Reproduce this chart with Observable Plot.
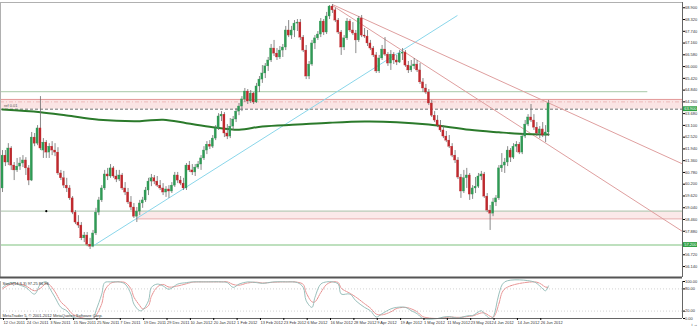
<!DOCTYPE html>
<html><head><meta charset="utf-8">
<script src="https://cdn.jsdelivr.net/npm/d3@7"></script>
<script src="https://cdn.jsdelivr.net/npm/@observablehq/plot@0.6"></script>
<style>
html,body{margin:0;padding:0;background:#fff;}
#chart{position:relative;width:700px;height:328px;overflow:hidden;background:#fff;}
#chart svg{position:absolute;left:0;display:block;}
</style></head><body><div id="chart"></div>
<script>
// ---- daily NZDJPY-like candles, one entry per bar (index 0 = 12 Oct 2011) ----
const open = [59.99,61.61,61.27,61.96,61.12,60.88,61.07,61.22,61.37,60.98,60.38,62.50,62.20,62.95,61.86,62.25,61.76,62.05,61.86,61.76,60.73,60.49,60.13,59.99,59.50,58.80,58.31,58.16,57.53,57.67,57.22,57.12,57.77,58.80,59.40,59.99,60.68,60.58,60.98,60.58,60.43,60.63,59.99,59.79,59.30,59.05,58.60,58.85,59.25,59.40,59.89,60.33,60.49,60.33,60.13,59.99,59.79,59.94,59.84,60.13,60.63,60.38,60.23,59.99,61.12,60.88,60.78,61.02,61.17,61.47,61.86,62.15,62.05,62.45,62.95,63.54,63.63,62.70,62.55,63.04,63.39,63.78,64.03,64.38,64.77,64.28,64.67,64.23,65.02,65.36,65.66,66.01,66.30,66.89,66.64,66.45,66.79,66.94,67.78,67.53,67.78,68.12,68.17,67.43,66.79,65.51,66.10,67.14,67.39,67.58,68.22,67.68,68.47,68.96,68.77,68.27,67.68,66.94,67.39,68.22,67.78,67.63,67.29,68.37,67.53,67.48,67.14,66.89,66.55,65.76,66.40,66.84,66.59,66.15,66.59,66.30,66.20,66.64,66.69,66.05,65.81,66.01,66.10,65.81,65.22,64.92,64.72,64.18,63.58,63.34,63.09,62.85,62.55,62.35,62.05,61.61,61.37,60.53,59.84,60.49,60.63,59.69,59.99,60.08,60.58,60.68,59.59,58.90,58.75,59.30,59.50,60.98,61.12,61.27,61.86,61.51,62.05,62.15,61.76,62.55,63.14,63.49,63.34,62.99,62.70,62.90,62.60,62.75];
const high = [61.86,61.86,62.20,62.05,61.27,61.47,61.51,61.61,61.51,61.12,62.75,62.70,63.09,64.52,62.45,62.35,62.20,62.30,62.20,62.00,60.88,60.83,60.49,60.13,59.59,58.90,58.65,58.31,57.82,57.82,57.53,57.92,59.01,59.55,60.13,60.88,60.98,61.17,61.07,60.88,60.88,60.73,60.28,59.99,59.59,59.25,59.05,59.40,59.55,60.04,60.49,60.68,60.63,60.58,60.38,60.23,60.08,60.13,60.28,60.78,60.78,60.58,60.49,61.22,61.32,61.17,61.17,61.32,61.61,62.05,62.30,62.35,62.60,63.09,63.68,63.78,63.73,63.14,63.44,63.54,63.93,64.18,64.52,64.92,64.87,64.82,64.72,65.17,65.51,66.05,66.15,66.45,67.09,67.29,66.89,66.99,67.09,67.98,68.27,67.98,68.27,68.32,68.32,67.53,67.04,66.25,67.29,67.53,67.73,68.37,68.32,68.67,69.01,69.06,68.87,68.37,67.78,67.53,68.37,68.32,68.17,67.78,68.47,68.52,67.88,67.78,67.29,66.99,66.69,66.55,67.04,67.43,66.69,66.79,66.69,66.55,66.79,66.89,66.79,66.25,66.30,66.40,66.30,66.15,65.41,65.12,64.87,64.33,63.78,63.58,63.34,63.09,62.80,62.60,62.20,61.86,61.51,60.68,60.88,60.98,60.73,60.13,60.53,60.73,60.83,60.78,59.74,59.15,59.50,59.64,61.12,61.71,61.47,62.05,61.96,62.20,62.30,62.25,62.70,63.34,63.63,64.13,63.63,63.24,63.04,63.24,63.09,64.33];
const low = [59.79,61.07,61.12,60.88,60.38,60.78,60.88,61.02,60.63,60.13,60.33,62.05,62.10,61.86,61.47,61.47,61.47,61.61,61.56,60.63,60.38,59.99,59.79,59.40,58.70,58.21,58.02,57.42,57.32,57.12,56.98,57.07,57.67,58.65,59.30,59.89,60.38,60.49,60.49,60.28,60.33,59.89,59.64,59.20,58.90,58.51,58.31,58.65,59.01,59.30,59.64,60.08,60.18,60.04,59.89,59.64,59.55,59.50,59.74,60.04,60.23,60.13,59.89,59.89,60.78,60.63,60.58,60.93,60.88,61.37,61.66,61.91,61.96,62.35,62.85,63.29,62.50,62.40,62.45,62.85,63.24,63.58,63.78,64.23,64.13,64.18,64.13,64.18,64.72,65.17,65.41,65.76,66.20,66.50,66.30,66.35,66.45,66.79,67.43,67.34,67.43,67.73,67.29,66.69,65.36,65.36,66.01,66.84,67.29,67.43,67.53,67.58,68.32,68.62,68.17,67.58,66.55,66.79,67.29,67.68,67.53,66.64,67.19,67.43,67.39,66.99,66.79,66.45,65.66,65.66,66.30,66.50,66.01,65.81,66.10,66.05,66.15,66.30,65.96,65.66,65.71,65.86,65.71,65.12,64.72,64.62,64.08,63.49,63.24,62.99,62.75,62.45,62.25,61.96,61.51,61.22,60.43,59.50,59.74,59.99,59.40,59.45,59.74,59.99,60.38,59.50,58.80,57.92,58.60,59.10,59.40,60.78,60.73,61.07,61.27,61.42,61.76,61.66,61.66,62.45,63.04,63.24,62.85,62.55,62.45,62.50,62.25,62.55];
const close = [61.61,61.27,61.96,61.12,60.88,61.07,61.22,61.37,60.98,60.38,62.50,62.20,62.95,61.96,62.25,61.76,62.05,61.86,61.76,60.73,60.49,60.13,59.99,59.50,58.80,58.31,58.16,57.53,57.67,57.22,57.12,57.77,58.80,59.40,59.99,60.68,60.58,60.98,60.58,60.43,60.63,59.99,59.79,59.30,59.05,58.60,58.85,59.25,59.40,59.89,60.33,60.49,60.33,60.13,59.99,59.79,59.94,59.84,60.13,60.63,60.38,60.23,59.99,61.12,60.88,60.78,61.02,61.17,61.47,61.86,62.15,62.05,62.45,62.95,63.54,63.63,62.70,62.55,63.04,63.39,63.78,64.03,64.38,64.77,64.28,64.67,64.23,65.02,65.36,65.66,66.01,66.30,66.89,66.64,66.45,66.79,66.94,67.78,67.53,67.78,68.12,68.17,67.43,66.79,65.51,66.10,67.14,67.39,67.58,68.22,67.68,68.47,68.96,68.77,68.27,67.68,66.94,67.39,68.22,67.78,67.63,67.29,68.37,67.53,67.48,67.14,66.89,66.55,65.76,66.40,66.84,66.59,66.15,66.59,66.30,66.20,66.64,66.69,66.05,65.81,66.01,66.10,65.81,65.22,64.92,64.72,64.18,63.58,63.34,63.09,62.85,62.55,62.35,62.05,61.61,61.37,60.53,59.84,60.49,60.63,59.69,59.99,60.08,60.58,60.68,59.59,58.90,58.75,59.30,59.50,60.98,61.12,61.27,61.86,61.51,62.05,62.15,61.76,62.55,63.14,63.49,63.34,62.99,62.70,62.90,62.60,62.75,64.18];

// date labels, one every 8 bars
const dateLabels = ["12 Oct 2011","24 Oct 2011","3 Nov 2011","15 Nov 2011","25 Nov 2011","7 Dec 2011","19 Dec 2011","29 Dec 2011","10 Jan 2012","20 Jan 2012","1 Feb 2012","13 Feb 2012","23 Feb 2012","6 Mar 2012","16 Mar 2012","28 Mar 2012","9 Apr 2012","19 Apr 2012","1 May 2012","11 May 2012","23 May 2012","4 Jun 2012","14 Jun 2012","26 Jun 2012"];
const labelStep = 8;

// right price axis labels
const priceTicks = [68.90,68.32,67.74,67.16,66.58,66.00,65.42,64.84,64.26,63.68,63.10,62.52,61.94,61.36,60.78,60.20,59.62,59.04,58.46,57.88,57.30,56.72,56.14];

// moving average (read at sample bars)
const maIdx = [0,13,22,33,47,55,63,72,81,89,101,112,124,135,146,160,170,177,187];
const maVal = [63.88,63.75,63.59,63.38,63.31,63.38,63.21,63.01,62.88,63.05,63.14,63.23,63.29,63.26,63.14,62.88,62.76,62.69,62.65];

// horizontal levels
const levelHigh = 64.77, levelHighEnd = 221;
const zoneTop = 64.38, zoneBottom = 63.90;
const zone2Top = 58.87, zone2Bottom = 58.49, zone2Start = 46;
const levelLow = 57.20;
const markerIdx = 15;
const axisBoxes = [zoneBottom, levelLow];

// trend lines [x1, y1, x2, y2]
const trendCyan = [31.2, 57.17, 155.8, 68.52];
const trendRedA = [113, 69.06, 232.9, 61.20];
const trendRedB = [113, 69.01, 232.9, 57.87];

// stochastic oscillator readings
const stochIdx = [0,2,4,6,8,11,13,15,16,18,20,22,24,27,31,32,34,35,37,39,40,42,44,45,47,48,50,51,53,55,57,60,63,65,68,70,75,77,79,81,84,87,89,93,97,101,103,104,106,107,109,111,113,115,116,119,121,124,126,128,130,133,135,138,140,142,144,149,151,153,156,158,160,161,164,165,167,168,169,170,172,182,184,186,187];
const stochMain = [84,95,97,90,84,66,93,99,84,57,30,21,4,0,0,21,66,97,99,99,99,93,66,39,21,23,48,84,93,88,79,93,97,99,99,99,99,97,84,93,99,97,95,99,99,97,84,48,30,57,93,99,99,93,66,66,48,30,21,4,13,26,30,30,21,13,0,0,4,5,1,5,8,8,21,13,0,4,30,66,99,99,88,75,88];
const stochSignal = [80,90,95,93,88,75,82,95,92,72,45,30,12,2,0,8,40,75,95,99,99,97,80,58,35,26,35,60,85,92,85,88,94,98,99,99,99,99,92,90,96,98,96,98,99,98,92,70,45,45,70,92,99,97,82,68,58,40,28,12,10,18,27,30,26,18,5,0,2,4,3,4,6,7,15,15,6,3,15,40,80,99,95,85,84];
const stochTicks = [0,20,80,100];
const stochTitle = "Stoch(14,3,3) 97.25 86.96";
const copyright = "MetaTrader 5, © 2001-2012 MetaQuotes Software Corp.";

// ---------------------------------------------------------------
const bars = open.map((o, i) => ({i, o, h: high[i], l: low[i], c: close[i]}));
const xDomain = [-0.685, 232.88];
const FONT = "'Liberation Sans Narrow', 'Liberation Sans', Arial, sans-serif";
const FS = 4;
const green = "#2f9a55", red = "#c0282d";
const pxX = 682 / (xDomain[1] - xDomain[0]);
const shownTicks = priceTicks.filter(t => axisBoxes.every(b => Math.abs(t - b) > 0.18));

const main = Plot.plot({
  width: 700, height: 278,
  marginLeft: 0, marginRight: 18, marginTop: 2, marginBottom: 1,
  x: {domain: xDomain, axis: null},
  y: {domain: [55.60, 69.16], axis: null},
  style: {background: "transparent", fontFamily: FONT, overflow: "visible"},
  marks: [
    // zones
    Plot.rect([0], {x1: xDomain[0], x2: xDomain[1], y1: zoneBottom, y2: zoneTop, fill: "#fbe4e4"}),
    Plot.rect([0], {x1: zone2Start, x2: xDomain[1], y1: zone2Bottom, y2: zone2Top, fill: "#fbe9e9"}),
    Plot.ruleY([zoneTop], {x1: xDomain[0], x2: xDomain[1], stroke: "#e39a9a", strokeWidth: 1}),
    Plot.ruleY([zoneTop - 0.12], {x1: xDomain[0], x2: xDomain[1], stroke: "#eab0b0", strokeWidth: 0.8, strokeDasharray: "4,2,1,2"}),
    Plot.ruleY([zoneBottom], {x1: xDomain[0], x2: xDomain[1], stroke: "#707070", strokeWidth: 1, strokeDasharray: "3,2"}),
    Plot.ruleY([zone2Bottom], {x1: zone2Start, x2: xDomain[1], stroke: "#e6a8a8", strokeWidth: 1}),
    Plot.ruleY([zone2Top], {x1: xDomain[0], x2: xDomain[1], stroke: "#b9cdb9", strokeWidth: 1.2}),
    Plot.ruleY([levelHigh], {x1: xDomain[0], x2: levelHighEnd, stroke: "#b9d3b9", strokeWidth: 1.3}),
    Plot.ruleY([levelLow], {x1: xDomain[0], x2: xDomain[1], stroke: "#a9d6a9", strokeWidth: 1.6}),
    Plot.dot([markerIdx], {x: d => d, y: zone2Top, r: 1.1, fill: "#000", stroke: null}),
    // trend lines
    Plot.link([trendCyan], {x1: d => d[0], y1: d => d[1], x2: d => d[2], y2: d => d[3], stroke: "#8ad6ea", strokeWidth: 1}),
    Plot.link([trendRedA, trendRedB], {x1: d => d[0], y1: d => d[1], x2: d => d[2], y2: d => d[3], stroke: "#df9f9f", strokeWidth: 1}),
    // moving average
    Plot.line(maIdx.map((k, j) => ({i: k, v: maVal[j]})), {x: "i", y: "v", stroke: "#2b7a2b", strokeWidth: 2, curve: "catmull-rom"}),
    // candles
    Plot.ruleX(bars, {x: "i", y1: "l", y2: "h", stroke: "#6c6c6c", strokeWidth: 0.8}),
    Plot.rect(bars, {x1: d => d.i - 0.36, x2: d => d.i + 0.36, y1: "o", y2: "c",
      fill: d => d.c >= d.o ? green : red, stroke: d => d.c >= d.o ? green : red, strokeWidth: 0.3}),
    // frame
    Plot.ruleY([69.16], {x1: xDomain[0], x2: xDomain[1], stroke: "#b0b0b0", strokeWidth: 1}),
    Plot.ruleX([xDomain[0]], {stroke: "#b0b0b0", strokeWidth: 1}),
    Plot.ruleY([55.60], {x1: xDomain[0], x2: xDomain[1], stroke: "#555", strokeWidth: 2}),
    Plot.ruleX([xDomain[1]], {stroke: "#666", strokeWidth: 1}),
    // right price axis
    Plot.axisY(shownTicks, {anchor: "right", tickSize: 2, tickPadding: 0.5, fontSize: FS, fill: "#333",
      tickFormat: d => d.toFixed(3)}),
    // current-level boxes on the axis
    Plot.rect(axisBoxes, {x1: xDomain[1] + 0.3, x2: xDomain[1] + 15 / pxX, y1: d => d - 0.12, y2: d => d + 0.12, fill: "#2ea043"}),
    Plot.text(axisBoxes, {x: xDomain[1] + 0.6, y: d => d, text: d => d.toFixed(3), textAnchor: "start", fontSize: FS, fill: "#fff"}),
    // level label
    Plot.text(["ref 0.01"], {x: xDomain[0] + 1.2, y: zoneBottom + 0.18, textAnchor: "start", fontSize: FS, fill: "#555"})
  ]
});
main.style.top = "0px";

const stochRows = stochIdx.map((k, j) => ({i: k, m: stochMain[j], s: stochSignal[j]}));
const labelIdx = dateLabels.map((_, k) => k * labelStep);
const stoch = Plot.plot({
  width: 700, height: 50,
  marginLeft: 0, marginRight: 18, marginTop: 3, marginBottom: 10,
  x: {domain: xDomain, axis: null},
  y: {domain: [0, 100], axis: null},
  style: {background: "transparent", fontFamily: FONT, overflow: "visible"},
  marks: [
    Plot.ruleY([20, 80], {x1: xDomain[0], x2: xDomain[1], stroke: "#c8c8c8", strokeWidth: 0.8, strokeDasharray: "1,2"}),
    Plot.line(stochRows, {x: "i", y: "s", stroke: "#e07070", strokeWidth: 0.8, strokeDasharray: "1.5,1", curve: "catmull-rom"}),
    Plot.line(stochRows, {x: "i", y: "m", stroke: "#8fb9b4", strokeWidth: 0.9, curve: "catmull-rom"}),
    Plot.ruleX([xDomain[0]], {stroke: "#b0b0b0", strokeWidth: 1}),
    Plot.ruleX([xDomain[1]], {y1: 0, y2: 100, stroke: "#666", strokeWidth: 1}),
    Plot.ruleY([0], {x1: xDomain[0], x2: xDomain[1], stroke: "#666", strokeWidth: 1}),
    Plot.axisY(stochTicks, {anchor: "right", tickSize: 2, tickPadding: 0.5, fontSize: FS, fill: "#333", tickFormat: d => d.toFixed(2)}),
    Plot.axisX(labelIdx, {anchor: "bottom", tickSize: 2, tickPadding: 1, fontSize: FS, fill: "#333",
      textAnchor: "start", dx: 1, tickFormat: d => dateLabels[d / labelStep]}),
    Plot.text([stochTitle], {frameAnchor: "top-left", dx: 2, dy: 1, fontSize: FS, fill: "#333", textAnchor: "start", lineAnchor: "top"}),
    Plot.text([copyright], {frameAnchor: "bottom-left", dx: 2, dy: -2, fontSize: FS, fill: "#333", textAnchor: "start", lineAnchor: "bottom"})
  ]
});
stoch.style.top = "278px";

const root = document.getElementById("chart");
root.appendChild(main);
root.appendChild(stoch);
</script>
</body></html>
